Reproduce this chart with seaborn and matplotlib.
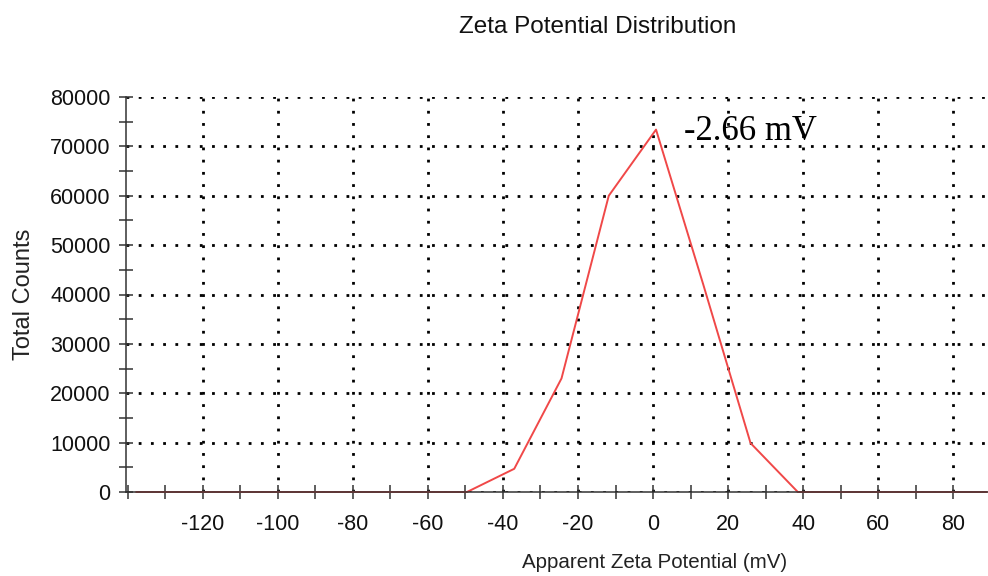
import matplotlib
matplotlib.use("Agg")
import matplotlib.pyplot as plt
import seaborn as sns
import pandas as pd
from matplotlib.ticker import MultipleLocator

zeta_mv = [-137.8, -125.2, -112.6, -100.0, -87.4, -74.8, -62.2, -49.6, -37.0, -24.4,
           -11.8, 0.8, 13.4, 26.0, 38.6, 51.2, 63.8, 76.4, 89.0]
total_counts = [0, 0, 0, 0, 0, 0, 0, 0, 4700, 23000,
                60000, 73400, 42000, 9900, 0, 0, 0, 0, 0]
x_ticks = [-120, -100, -80, -60, -40, -20, 0, 20, 40, 60, 80]
y_ticks = [0, 10000, 20000, 30000, 40000, 50000, 60000, 70000, 80000]
title = "Zeta Potential Distribution"
xlabel = "Apparent Zeta Potential (mV)"
ylabel = "Total Counts"
peak_label = "-2.66 mV"

df = pd.DataFrame({"zeta": zeta_mv, "counts": total_counts})

sns.set_theme(style="white")
plt.rcParams['font.family'] = ['Liberation Sans', 'DejaVu Sans']

fig = plt.figure(figsize=(9.88, 5.76), dpi=100)
ax = fig.add_axes([126/988, 84/576, (988-126)/988, 395/576])

sns.lineplot(data=df, x="zeta", y="counts", ax=ax, color="#f04848", linewidth=1.4,
             zorder=3, clip_on=False)

ax.set_xlim(-140.5, 89.3)
ax.set_ylim(0, 80000)
ax.set_xticks(x_ticks)
ax.set_xticklabels([str(v) for v in x_ticks])
ax.set_yticks(y_ticks)
ax.set_yticklabels([str(v) for v in y_ticks])
ax.xaxis.set_minor_locator(MultipleLocator(10))
ax.yaxis.set_minor_locator(MultipleLocator(5000))

ax.grid(True, which="major", color="black", linestyle=(0, (1, 3.4)), linewidth=2.0, zorder=1)
for s in ["top", "right"]:
    ax.spines[s].set_visible(False)
for s in ["left", "bottom"]:
    ax.spines[s].set_color("#333333")
    ax.spines[s].set_linewidth(1.1)
    ax.spines[s].set_zorder(4)

ax.tick_params(axis="both", which="both", bottom=True, left=True, direction="inout",
               length=10, width=1.1, color="#333333", labelsize=15.5, labelcolor="#111111")
ax.tick_params(axis="x", pad=11)
ax.tick_params(axis="y", pad=6)

ax.set_xlabel(xlabel, fontsize=14.8, color="#222222")
ax.xaxis.set_label_coords((655 - 126) / 862, -(553 - 492) / 395)
ax.set_ylabel(ylabel, fontsize=17, color="#222222", labelpad=11)
fig.text(598/988, 1 - 27/576, title, ha="center", va="center", fontsize=17.5, color="#111111")

ax.text(8.3, 71250, peak_label, ha="left", va="baseline", fontsize=25,
        family=["Liberation Serif", "DejaVu Serif"], color="black", zorder=5)

fig.savefig("out.png", dpi=100)
